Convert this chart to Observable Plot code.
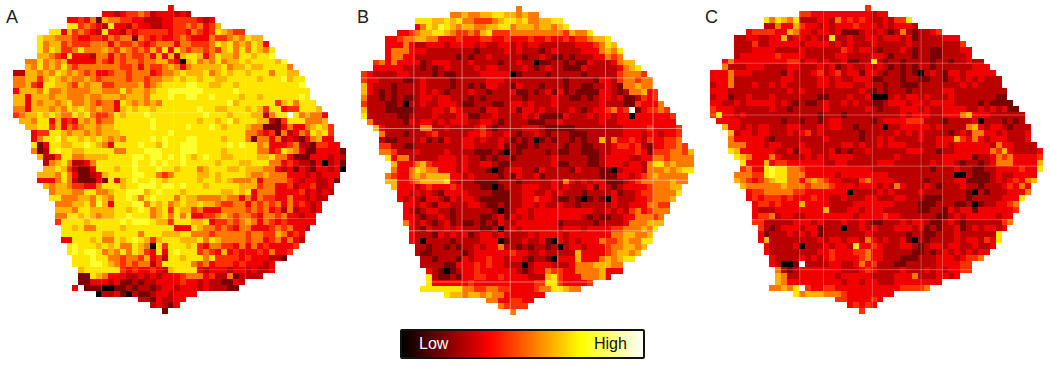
<!DOCTYPE html>
<html><head><meta charset="utf-8">
<script src="https://cdn.jsdelivr.net/npm/d3@7"></script>
<script src="https://cdn.jsdelivr.net/npm/@observablehq/plot@0.6"></script>
<style>
html,body{margin:0;padding:0;background:#fff}
#root{position:relative;width:1050px;height:366px;overflow:hidden;font-family:"Liberation Sans",Arial,sans-serif}
.p{position:absolute}
.lab{position:absolute;font-size:18px;line-height:18px;color:#222}
#legend{position:absolute;left:400px;top:329px;width:241px;height:26px;border:2px solid #111;border-radius:2px;
background:linear-gradient(90deg,#000 0%,#f00 36.5%,#ff0 74.4%,#fff 100%);font-size:16px}
#legend span{position:absolute;top:4px;line-height:18px}
</style></head><body><div id="root"></div>
<script>
// first filled column of each row of the tissue outline
const rowStart=[26,15,9,9,6,4,4,4,4,2,2,0,0,0,0,0,0,0,0,1,2,3,3,3,3,4,5,5,4,4,5,6,6,7,7,7,7,8,8,8,9,9,10,10,11,11,11,10,14,21,23,25];
// levels 0 (black) .. 9 (white), one string per row; spaces only group digits, "." = empty
const panelA=[
"3","3323445423 33232","3343516554 4332223344 44323","7745432733 2433223344 545346",
"7736454327 3324344444 3443543476 544","7665554334 4354551543 4334543335 44565766",
"7566454445 5535445434 5553554445 767565763","7576445755 5654654546 4737545545 4675757657",
"6654373332 5535454453 6362677635 7665776778","5575656333 3354354554 5566430675 6575667677 7768",
"6575657545 5555554453 5445653566 6667566766 77775","2266565765 6545334554 5553455676 6675676776 77757766",
"5566467656 5565455554 5545566767 7677667777 767778677","5564377665 4656644555 5645677778 8776677677 777777778",
"3666575565 5556655575 6656778888 8877777877 7777777777","6636665665 5565566656 6657778778 8778777767 7677777787",
"6636566567 5565455376 5656577777 7777778677 7777467577 7","5536665657 6765655367 6776777777 7877667776 7647734477 76",
"4566767655 7675445767 7787777777 7787776777 6625779756 553","6657736343 6564557777 7787777777 6776786777 6621477755 56",
"6677463545 6656677777 7877777877 7876777655 1113533567 64","3447765665 6566677777 7778777777 7777775543 4152354767 4",
"3577867767 6765657777 8787778877 7767775155 3523213563 3","7137766778 7653777787 7687788877 7778787756 3334522144 33",
"5127877667 7777557778 8877788877 7767777755 3476531133 331","6224775566 6677778878 8787876787 7667777667 5531113332 32",
"2567522357 7777787787 8778777776 7776677755 3432213023 1","6676421137 7767787778 7767775677 7667666553 2313213323 0",
"6665753112 3677778877 5457777667 6777765565 5533323233 3","3335752111 3173678778 7677777677 6765556355 5543233223 1",
"6566544335 7776778887 8878777677 7776664553 342334223","5666557755 6778886787 7767777776 6767355533 33423232",
"7755566576 5778757877 7576655556 5535354433 5332322","5556675863 7778857675 6766766544 5535454535 34323",
"6665776666 7767875674 7664533355 5545453425 23323","5577676566 7787775675 7573344565 4554355453 3233",
"4777767777 7878887664 7776673445 4565354343 3333","7767557777 6777777773 3376554543 5533345453 32",
"7777777667 7775777666 7755545555 5455446534 3","3377767557 6787646777 6667576555 5455345353 2",
"7877767675 5765074777 6743554435 353433334","7878875657 5764373787 7745436343 33435334",
"7778775545 5463427767 7757444434 333221","7778876545 4552477777 5453444343 3323",
"6777777434 3343267777 3233323323 223","1176533322 3232333455 5342251222 2",
"1133323112 1223333433 23221132","3.11100112 1221233233 323 22211","0223102112 3323333","22132233","23213","1"];
const panelB=[
"5","5565566776 65655","7776676755 4445677675 56677","3576876566 5566775666 566567",
"3345667765 4454674445 5555555546 557","3345566553 3343334433 4333433433 43445667",
"3335322333 2333323223 3232332222 223334576","3555333222 2222212222 3232221232 2223335657",
"3553322222 2212122322 2221223211 2122233545","4535333312 3332223222 2122322011 2212113222 3566",
"3333322212 1232222323 3222232123 2211132222 23567","4322223322 2212112222 3333301222 2122222122 22245554",
"4332222112 3222212222 2333222222 2222122221 332455455","6322212222 3222212212 1332213222 1222122112 232155655",
"6321212222 3232122232 2122231121 2313121111 3321255634","5221212112 3323322212 1222222122 2232211212 3323112434",
"4222112022 3223332112 2211233232 2232222222 3222114333 5","6222111112 2233243222 1332231332 3222232123 3453491344 54",
"7222221122 2232223311 2232222323 1111322232 3323303333 334","5222221323 3232333223 3212222111 2232222223 2233333333 33",
"6322222255 2232222342 1222233321 1111222222 2233334333 34","5222122234 2222233432 2321223212 2211122222 2333233233 4",
"2112222312 1322332322 3212120121 2212122625 3343243344 5","4422112222 2222332222 3121121222 2122112223 4434213344 54",
"5542223222 2322221112 1021222212 1122111223 3334314445 546","7355222223 3323221212 2122222232 2222112333 3223355455 55",
"6333564333 3232233211 2222222311 2221123332 3325775655 5","5335765533 3232221012 3322132222 1322211023 3325556567 7",
"5433565666 6332322221 2132231222 2222221113 3234565555 5","6633456666 7322211112 2212222232 5323233111 2345555565 5",
"6333234333 4322211012 2233322323 2223132123 333455566","3323232133 3322221112 2332232322 2122223122 34455557",
"3232133213 2332111112 2334332112 1012103222 3345556","3323213322 2332112122 3323223221 2222232233 35544",
"3212332212 2222210123 3233333333 3322323245 34555","3321223212 2221123132 3233333333 2121122335 5545",
"5323212312 1121213223 3333331222 2212222355 5666","3213223232 2211202323 3333323332 3333445556 57",
"3222132323 1233232222 3233332333 3333556655 6","3202222122 2233301223 2231032323 3354456557 7",
"2212212122 3233522121 2212023323 334556656","2112222212 3333334332 2322222633 33456656",
"2212221323 3433233212 2103336333 565677","2222113334 3433222023 3322235556 6655",
"3210123343 3333321233 5443355556 333","7211213344 3343333222 6743335556 3",
"7333333433 3333333344 77433334","7777777554 4554433334 5577655","7665665655 3333333","55334433","54444","5"];
const panelC=[
"4","4433333333 33233","7576572223 3253434322 32447","2253364332 3233343332 323332",
"3444433653 3233231112 3232125212 234","2233223362 3323227223 2233233323 12222333",
"2224223333 3233332323 2223222223 222222224","2223333222 2322222243 2332122232 1221122233",
"2333333433 3322222332 2223321222 1221122223","3533333333 3442332322 3112272122 1222212212 2322",
"5222333222 2332223231 2322323212 1212212222 22333","3335333222 2213222342 3423313321 2212102321 33233333",
"3335222222 2233222233 2322333112 2212211221 232323222","2335222322 3232222233 2333223221 2211122222 223232222",
"3332222222 2223232222 2222232121 2221222223 3222222222","2331223222 3222222211 2223223000 2323323222 3222222211",
"3322323333 3232121123 2232322112 3332332333 3222212111 1","4333222222 3221222223 2222223212 2233323223 3332232323 11",
"4733232222 2222222212 2212222222 2232333223 3356333222 222","3333222222 2122122123 3222221233 3344422212 2223022212 12",
"6332323322 2332223233 2212222022 3333323222 2563233212 22","6233233222 3234232222 2212222232 3232222123 2553323222 3",
"5333332122 2222223222 2212232322 2232233364 3532333222 3","5553332332 2232222223 3232232333 2222233233 3333253322 22",
"7633333322 3133222312 1223222222 3332212233 3333546322 223","7653335322 2232323333 2222222322 2222233333 1223545333 34",
"7333634433 3333223322 2223332222 2232332122 1235553333 6","4533787755 4333333333 3322222222 2212223221 1223333433 7",
"5554478775 5533333233 3333332222 2222222002 1112322333 3","6543456775 5356543322 2453333222 2212222331 1112323435 6",
"6555555655 5455543332 3332325322 2321222322 122234353","3445555544 3333333022 2232322223 2222222102 12223335",
"3434443433 3433223222 3322233222 1112222122 2223337","3443433363 3332222333 3333222211 1222112012 23345",
"3222333333 3362223323 3322222211 2213233133 33334","3445233223 3333333233 3343322222 2112323333 3233",
"4422222333 2322232232 1122232332 1123212222 2245","4212333233 1222022323 2223332312 1223123233 23",
"3122232323 1222222232 2222212211 2223222222 7","3622222222 3233233253 2322310212 2223233243 7",
"3222230222 3233273343 2223321233 233223223","3222222223 3433344533 2222211212 32323233",
"3222232323 4333345332 2211122233 323445","3200192222 3322353422 2112222233 3344",
"5212333333 3222343222 2322232323 344","6522333333 2333332222 3335222332 3",
"6533333333 3233233222 33333333","5565794334 4333333333 3344445","7566655543 3333333","44333343","34343","4"];
// seam positions, in cell units, for each panel
const seamsAx=[14.8,26.9,39],seamsAy=[18,27,35.8,44.4];
const seamsBx=[8.8,16.9,25,33,41,49],seamsBy=[12,20.5,29.2,37.7,46.3];
const seamsCx=[15,19,27.2,35.4,39],seamsCy=[9.7,18.4,27,36,44.4];
const nCols=56,nRows=52,cellPx=5.95;
const levelDomain=[0,1,2,3,4,5,6,7,8,9];
const levelColors=["#000","#780000","#bb0000","#f00000","#ff3000","#ff7800","#ffb400","#ffe600","#ffff30","#fff"];
function cells(rows){
  const out=[];
  rows.forEach((s,r)=>{[...s.replace(/ /g,"")].forEach((ch,i)=>{
    if(ch!==".")out.push({col:rowStart[r]+i,row:r,level:+ch});
  });});
  return out;
}
function panel(rows,sx,sy,seamOpacity){
  const w=nCols*cellPx,h=nRows*cellPx;
  return Plot.plot({
    width:w,height:h,margin:0,
    x:{type:"linear",domain:[0,nCols],range:[0,w],axis:null},
    y:{type:"linear",domain:[0,nRows],range:[0,h],axis:null},
    color:{type:"linear",domain:levelDomain,range:levelColors},
    marks:[
      Plot.rect(cells(rows),{x1:"col",x2:d=>d.col+1,y1:"row",y2:d=>d.row+1,fill:"level",shapeRendering:"crispEdges"}),
      Plot.ruleX(sx,{stroke:"#fff",strokeOpacity:seamOpacity,strokeWidth:1}),
      Plot.ruleY(sy,{stroke:"#fff",strokeOpacity:seamOpacity,strokeWidth:1})
    ]
  });
}
const root=document.getElementById("root");
[[panelA,seamsAx,seamsAy,.2,12.7,5.3,"A",6],[panelB,seamsBx,seamsBy,.45,361,6,"B",357],[panelC,seamsCx,seamsCy,.3,710,5.3,"C",705]].forEach(([rows,sx,sy,op,left,top,name,lx])=>{
  const svg=panel(rows,sx,sy,op);
  svg.setAttribute("class","p");
  svg.style.cssText=`position:absolute;left:${left}px;top:${top}px;filter:blur(.45px);background:transparent;max-width:none`;
  root.appendChild(svg);
  const t=document.createElement("div");t.className="lab";t.textContent=name;t.style.left=lx+"px";t.style.top="8px";root.appendChild(t);
});
const lg=document.createElement("div");lg.id="legend";
lg.innerHTML='<span style="left:17px;color:#fff">Low</span><span style="left:192px;color:#111">High</span>';
root.appendChild(lg);
</script></body></html>
